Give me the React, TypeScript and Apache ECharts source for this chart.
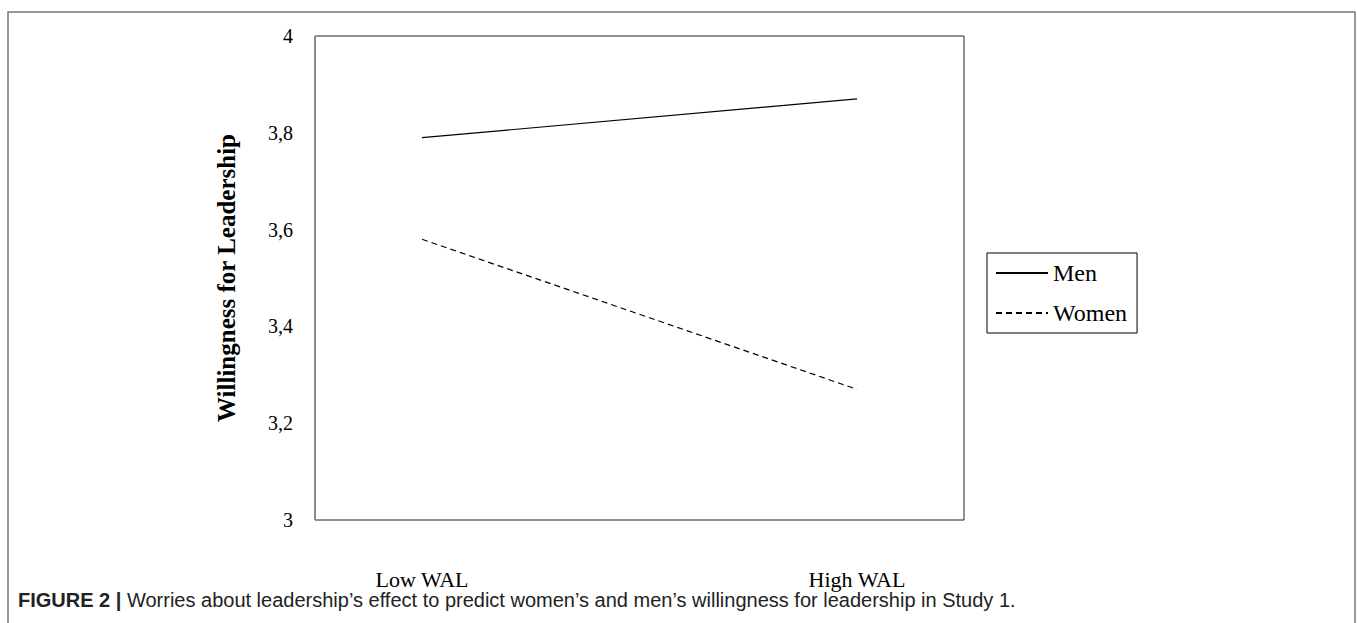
import React, { useEffect, useRef } from "react";
import * as echarts from "echarts";

const categories = ["Low WAL", "High WAL"];
const menValues = [3.79, 3.87];
const womenValues = [3.58, 3.27];
const yTicks = [3, 3.2, 3.4, 3.6, 3.8, 4];
const captionBold = "FIGURE 2 |";
const captionText =
  " Worries about leadership\u2019s effect to predict women\u2019s and men\u2019s willingness for leadership in Study 1.";

const serif = "'Liberation Serif', 'Times New Roman', serif";
const sans = "'Liberation Sans', Arial, sans-serif";

export default function App() {
  const ref = useRef<HTMLDivElement>(null);
  useEffect(() => {
    if (!ref.current) return;
    const chart = echarts.init(ref.current, null, { renderer: "svg" });
    const toPts = (vals: number[]) => vals.map((v, i) => [i, v]);
    chart.setOption({
      animation: false,
      backgroundColor: "#fff",
      grid: {
        left: 315,
        top: 36,
        width: 649,
        height: 484,
        show: true,
        borderColor: "#222",
        borderWidth: 1,
      },
      xAxis: {
        type: "value",
        min: -0.246,
        max: 1.246,
        axisLine: { show: false },
        axisTick: { show: false },
        splitLine: { show: false },
        axisLabel: {
          customValues: [0, 1],
          formatter: (v: number) => categories[Math.round(v)] ?? "",
          fontFamily: serif,
          fontSize: 22,
          color: "#000",
          margin: 48,
        },
      },
      yAxis: {
        type: "value",
        min: 3,
        max: 4,
        interval: 0.2,
        axisLine: { show: true, onZero: false, lineStyle: { color: "#888", width: 1 } },
        axisTick: { show: false },
        splitLine: { show: false },
        axisLabel: {
          customValues: yTicks,
          formatter: (v: number) =>
            Number.isInteger(v) ? String(v) : v.toFixed(1).replace(".", ","),
          fontFamily: serif,
          fontSize: 20,
          color: "#000",
          margin: 22,
        },
        name: "Willingness for Leadership",
        nameLocation: "middle",
        nameGap: 76,
        nameTextStyle: {
          fontFamily: serif,
          fontSize: 25,
          fontWeight: "bold",
          color: "#000",
        },
      },
      legend: {
        orient: "vertical",
        left: 987,
        top: 253,
        borderColor: "#000",
        borderWidth: 1,
        padding: [8, 10, 8, 8],
        itemGap: 16,
        itemWidth: 52,
        itemHeight: 14,
        itemStyle: { opacity: 0 },
        textStyle: {
          fontFamily: serif,
          fontSize: 24,
          color: "#000",
          lineHeight: 24,
          padding: [0, 0, 0, 0],
        },
        data: ["Men", "Women"],
      },
      series: [
        {
          name: "Men",
          type: "line",
          symbol: "none",
          data: toPts(menValues),
          lineStyle: { color: "#000", width: 1.2, type: "solid" },
          itemStyle: { color: "#000" },
        },
        {
          name: "Women",
          type: "line",
          symbol: "none",
          data: toPts(womenValues),
          lineStyle: { color: "#000", width: 1.2, type: [6, 4] },
          itemStyle: { color: "#000" },
        },
      ],
      graphic: [
        {
          type: "polyline",
          shape: { points: [[8, 640], [8, 12], [1355, 12], [1355, 640]] },
          style: { stroke: "#777", lineWidth: 1.5, fill: "none" },
          silent: true,
        },
        {
          type: "text",
          left: 18,
          top: 590,
          style: {
            text: `{b|${captionBold}}{n|${captionText}}`,
            rich: {
              b: { fontFamily: sans, fontWeight: "bold", fontSize: 20, fill: "#222" },
              n: { fontFamily: sans, fontSize: 20, fill: "#222" },
            },
          },
        },
      ],
    });
    return () => chart.dispose();
  }, []);
  return (
    <div
      ref={ref}
      style={{ position: "absolute", left: 0, top: 0, width: 1357, height: 623 }}
    />
  );
}
